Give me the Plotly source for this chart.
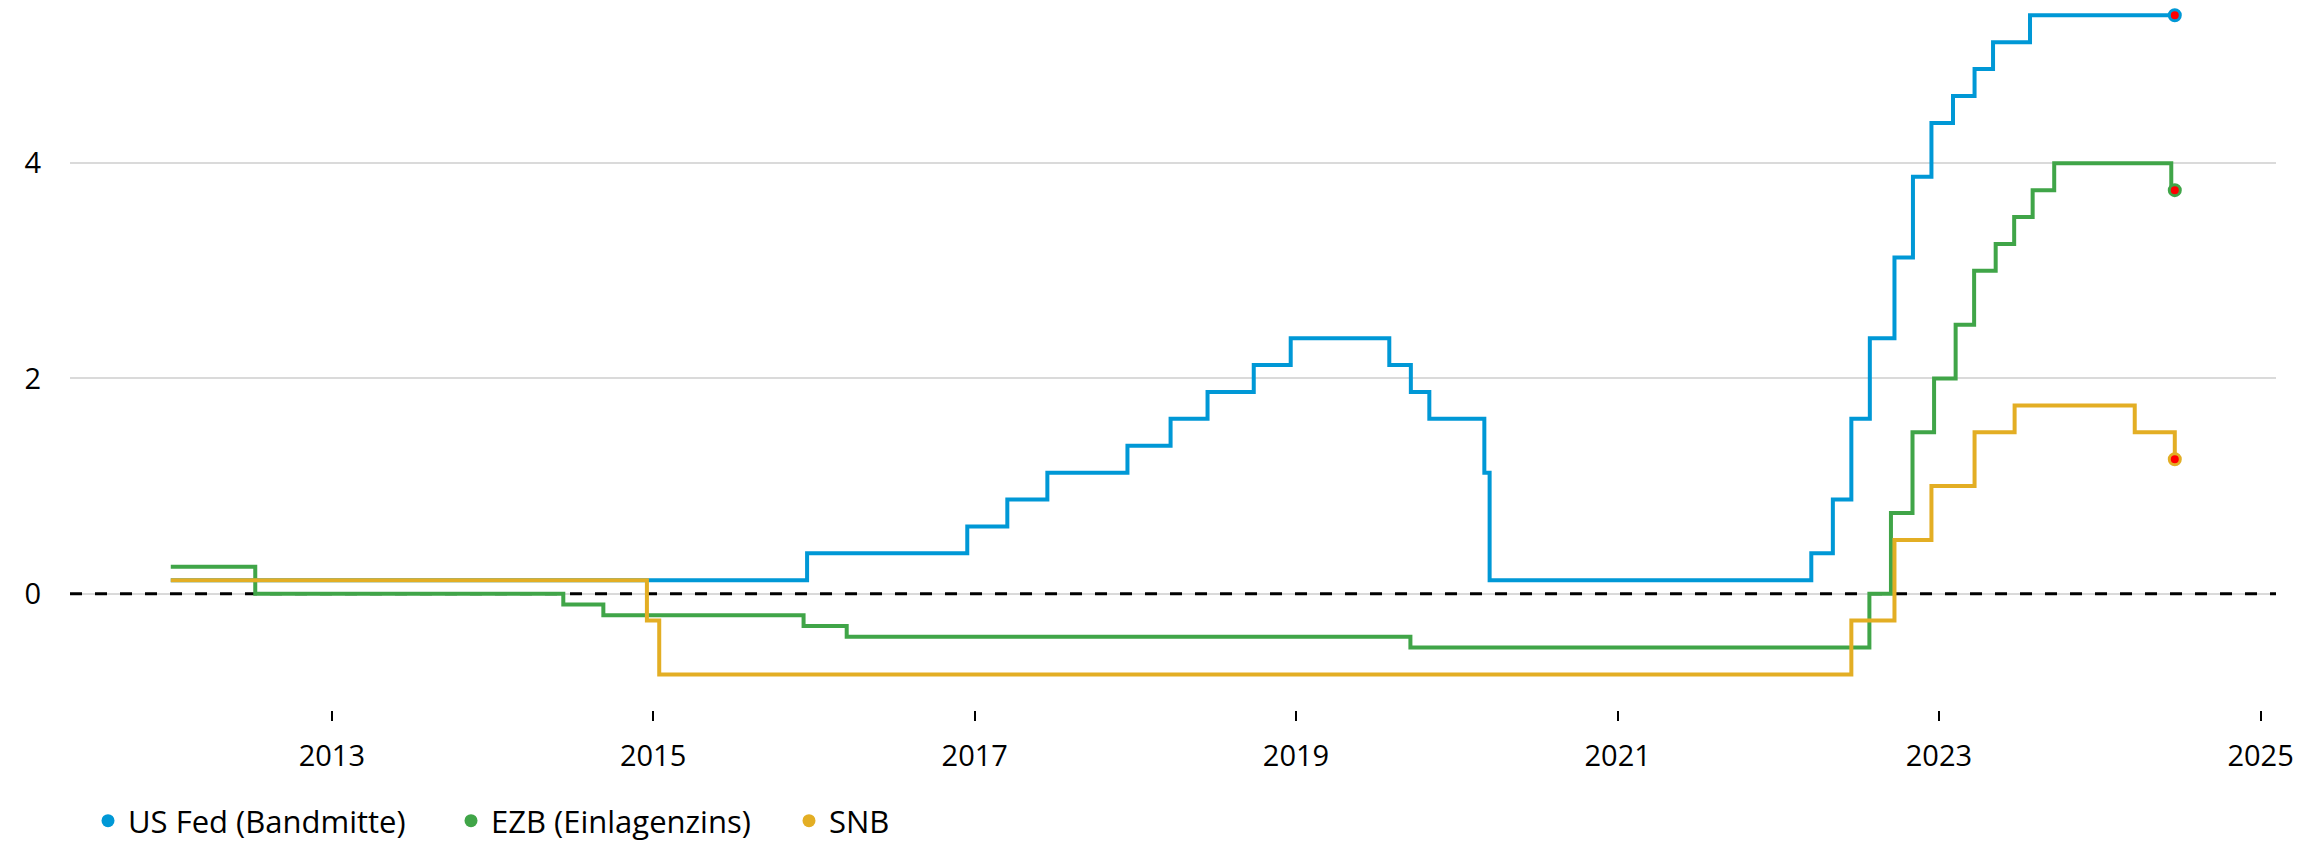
import plotly.graph_objects as go

# ---------------- data (policy rates, %, step changes) ----------------
fed_dates = ["2012-01-01", "2015-12-17", "2016-12-15", "2017-03-16", "2017-06-15",
             "2017-12-14", "2018-03-22", "2018-06-14", "2018-09-27", "2018-12-20",
             "2019-08-01", "2019-09-19", "2019-10-31", "2020-03-04", "2020-03-16",
             "2022-03-17", "2022-05-05", "2022-06-16", "2022-07-28", "2022-09-22",
             "2022-11-03", "2022-12-15", "2023-02-02", "2023-03-23", "2023-05-04",
             "2023-07-27", "2024-06-20"]
fed_values = [0.125, 0.375, 0.625, 0.875, 1.125,
              1.375, 1.625, 1.875, 2.125, 2.375,
              2.125, 1.875, 1.625, 1.125, 0.125,
              0.375, 0.875, 1.625, 2.375, 3.125,
              3.875, 4.375, 4.625, 4.875, 5.125,
              5.375, 5.375]

ezb_dates = ["2012-01-01", "2012-07-11", "2014-06-11", "2014-09-10", "2015-12-09",
             "2016-03-16", "2019-09-18", "2022-07-27", "2022-09-14", "2022-11-02",
             "2022-12-21", "2023-02-08", "2023-03-22", "2023-05-10", "2023-06-21",
             "2023-08-02", "2023-09-20", "2024-06-12", "2024-06-20"]
ezb_values = [0.25, 0.0, -0.1, -0.2, -0.3,
              -0.4, -0.5, 0.0, 0.75, 1.5,
              2.0, 2.5, 3.0, 3.25, 3.5,
              3.75, 4.0, 3.75, 3.75]

snb_dates = ["2012-01-01", "2014-12-18", "2015-01-15", "2022-06-16", "2022-09-22",
             "2022-12-15", "2023-03-23", "2023-06-22", "2024-03-21", "2024-06-20"]
snb_values = [0.125, -0.25, -0.75, -0.25, 0.5,
              1.0, 1.5, 1.75, 1.5, 1.25]

series_names = ["US Fed (Bandmitte)", "EZB (Einlagenzins)", "SNB"]
series_colors = ["#0098D6", "#40A548", "#E3AE24"]

tick_years = ["2013", "2015", "2017", "2019", "2021", "2023", "2025"]
y_ticks = [0, 2, 4]
x_range = ["2011-05-17", "2025-02-05"]
y_range = [-1.081, 5.443]
zero_level = 0

# ---------------- figure ----------------
FONT = "Open Sans"
W, H = 2315, 834          # page body has an 8px margin
fig = go.Figure()

# dashed zero reference line (drawn first, below the series)
fig.add_trace(go.Scatter(
    x=x_range, y=[zero_level, zero_level], mode="lines",
    line=dict(color="#000000", width=3, dash="12px,13px"),
    showlegend=False, hoverinfo="skip", cliponaxis=True))

all_series = [(fed_dates, fed_values), (ezb_dates, ezb_values), (snb_dates, snb_values)]

for (d, v), name, col in zip(all_series, series_names, series_colors):
    fig.add_trace(go.Scatter(
        x=d, y=v, mode="lines", name=name,
        line=dict(color=col, width=4, shape="hv"),
        showlegend=False, hoverinfo="skip"))

for (d, v), name, col in zip(all_series, series_names, series_colors):
    fig.add_trace(go.Scatter(
        x=[d[-1]], y=[v[-1]], mode="markers", name=name, cliponaxis=False,
        marker=dict(color="#FF0000", size=11, line=dict(color=col, width=3)),
        showlegend=False, hoverinfo="skip"))

legend_ids = ["legend", "legend2", "legend3"]
legend_x_px = [80, 443, 781]
for name, col, lid in zip(series_names, series_colors, legend_ids):
    fig.add_trace(go.Scatter(
        x=[None], y=[None], mode="markers", name=name, legend=lid,
        marker=dict(color=col, size=13), showlegend=True))

legend_common = dict(orientation="h", xref="container", yref="container",
                     xanchor="left", y=1 - 813 / H, yanchor="middle",
                     font=dict(family=FONT, size=31, color="#000000"),
                     bgcolor="rgba(0,0,0,0)")

fig.update_layout(
    width=W, height=H,
    margin=dict(l=62, r=47, t=0, b=132),
    paper_bgcolor="white", plot_bgcolor="white",
    font=dict(family=FONT, size=29, color="#000000"),
    showlegend=True,
    legend=dict(x=legend_x_px[0] / W, **legend_common),
    legend2=dict(x=legend_x_px[1] / W, **legend_common),
    legend3=dict(x=legend_x_px[2] / W, **legend_common),
    xaxis=dict(
        type="date",
        range=x_range,
        tickvals=[y + "-01-01" for y in tick_years],
        ticktext=tick_years,
        ticks="outside", ticklen=10, tickwidth=2, tickcolor="#000000",
        ticklabelstandoff=10,
        showgrid=False, showline=False, zeroline=False,
        tickfont=dict(family=FONT, size=29, color="#000000"),
    ),
    yaxis=dict(
        range=y_range,
        tickvals=y_ticks,
        ticktext=[str(t) for t in y_ticks],
        showgrid=True, gridcolor="#DADADA", gridwidth=1.5,
        zeroline=False, showline=False, ticks="",
        ticklabelstandoff=28,
        tickfont=dict(family=FONT, size=29, color="#000000"),
    ),
)

fig.write_html("out.html")
